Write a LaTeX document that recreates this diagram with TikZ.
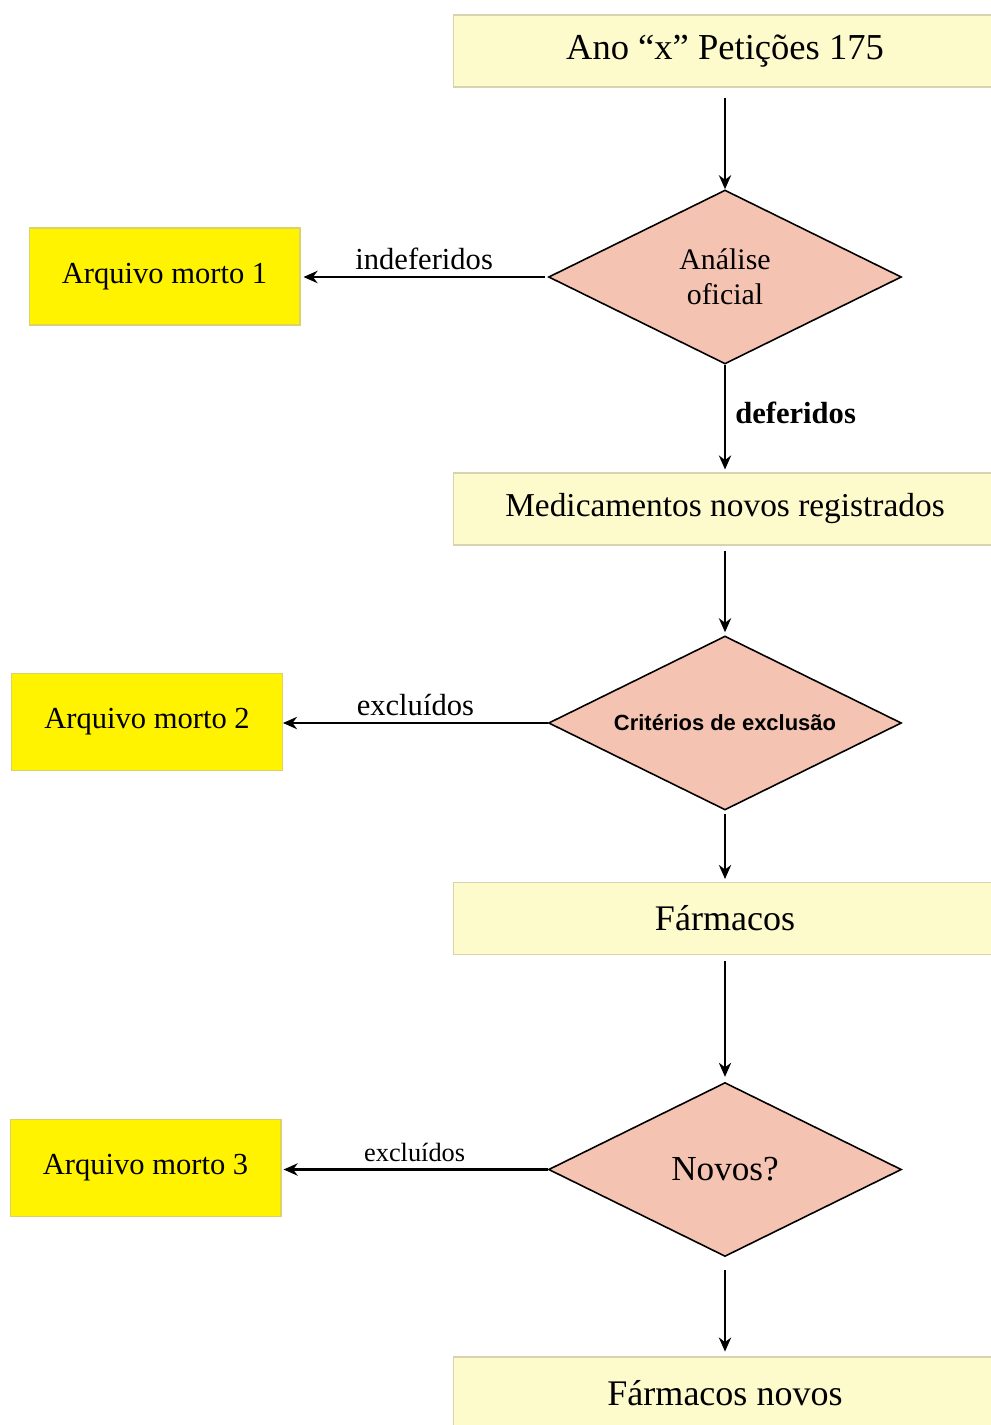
\documentclass[tikz,border=0pt]{standalone}
\usepackage{fontspec}
\setmainfont{Liberation Serif}
\newfontfamily\arialfont{Liberation Sans}
\usetikzlibrary{shapes.geometric,arrows.meta}
\definecolor{creme}{HTML}{FDFACC}
\definecolor{cremeborda}{HTML}{D8D2AE}
\definecolor{amarelo}{HTML}{FFF300}
\definecolor{amareloborda}{HTML}{DCD26A}
\definecolor{salmao}{HTML}{F4C3B2}
\tikzset{
	etapa/.style={draw=cremeborda, fill=creme, line width=0.6pt, minimum width=10.88cm, minimum height=1.44cm, font=\fontsize{20.5}{24}\selectfont},
	arquivo/.style={draw=amareloborda, fill=amarelo, line width=0.6pt, minimum width=5.42cm, minimum height=1.94cm, font=\fontsize{17.4}{20}\selectfont},
	decisao/.style={diamond, aspect=2, draw=black, fill=salmao, line width=0.9pt, minimum width=7.06cm, minimum height=3.48cm, inner sep=0pt, align=center},
	seta/.style={-{Stealth[length=8pt,width=7pt]}, line width=1.1pt},
	setalado/.style={seta, line width=1.6pt},
	rotulo/.style={font=\fontsize{17.4}{20}\selectfont}
}

\begin{document}
\begin{tikzpicture}[x=0.02cm, y=-0.02cm]
		%%%%% START %%%%%
		\useasboundingbox (0,0) rectangle (990,1425);
		
		\node[etapa, font=\fontsize{20.8}{24}\selectfont] (peticoes) at (725,51) {Ano “x” Petições 175};
		\node[decisao, font=\fontsize{17}{20}\selectfont] (analise) at (725,277) {Análise\\oficial};
		\node[arquivo] (morto1) at (164.5,276.5) {Arquivo morto 1};
		
		\node[etapa, font=\fontsize{19}{23}\selectfont] (registrados) at (725,509) {Medicamentos novos registrados};
		\node[decisao, font=\arialfont\bfseries\fontsize{12.5}{15}\selectfont] (criterios) at (725,723) {Critérios de exclusão};
		\node[arquivo] (morto2) at (147,722) {Arquivo morto 2};
		
		\node[etapa] (farmacos) at (725,918.5) {Fármacos};
		\node[decisao, font=\fontsize{20}{24}\selectfont] (novos) at (725,1169.5) {Novos?};
		\node[arquivo] (morto3) at (145.5,1168) {Arquivo morto 3};
		
		\node[etapa] (farmnovos) at (725,1393) {Fármacos novos};
		
		\draw[seta, shorten <=5.7pt] (peticoes) -- (analise);
		\draw[setalado, shorten <=1.7pt, shorten >=1.7pt] (analise.west) -- node[rotulo, above] {indeferidos} (analise.west -| morto1.east);
		\draw[seta, shorten >=1.7pt] (analise) -- node[pos=0.45, right, xshift=2pt, font=\bfseries\fontsize{17.4}{20}\selectfont] {deferidos} (registrados);
		
		\draw[seta, shorten <=3.4pt, shorten >=1.7pt] (registrados) -- (criterios);
		\draw[setalado] (criterios.west) -- node[rotulo, above] {excluídos} (criterios.west -| morto2.east);
		\draw[seta, shorten <=1.7pt, shorten >=1.7pt] (criterios) -- (farmacos);
		
		\draw[seta, shorten <=3.4pt, shorten >=2.8pt] (farmacos) -- (novos);
		\draw[setalado, shorten >=1.2pt] (novos.west) -- node[above, font=\fontsize{15}{18}\selectfont] {excluídos} (novos.west -| morto3.east);
		\draw[seta, shorten <=7.4pt, shorten >=2.8pt] (novos) -- (farmnovos);
		
		%%%%% END %%%%%
\end{tikzpicture}
\end{document}
